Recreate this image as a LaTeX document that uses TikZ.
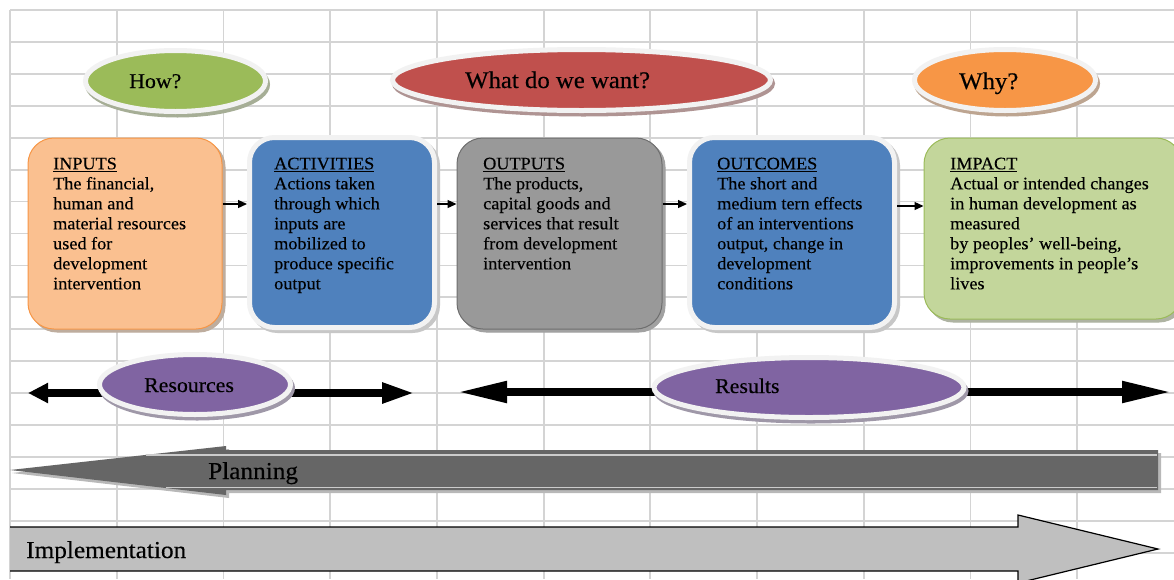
\documentclass[tikz,border=0pt]{standalone}
\usepackage{fontspec}
\setmainfont{Liberation Serif}[FakeStretch=1.04, FakeBold=0.3]
\usetikzlibrary{arrows.meta,shapes.geometric}

\definecolor{gridgray}{HTML}{D4D4D4}
\definecolor{ringwhite}{HTML}{F2F2F2}
\definecolor{howgreen}{HTML}{9BBB59}
\definecolor{wantred}{HTML}{C0504D}
\definecolor{whyorange}{HTML}{F79646}
\definecolor{inputfill}{HTML}{FAC090}
\definecolor{actblue}{HTML}{4F81BD}
\definecolor{outgray}{HTML}{999999}
\definecolor{outedge}{HTML}{6E6E6E}
\definecolor{impactfill}{HTML}{C3D69B}
\definecolor{resviolet}{HTML}{8064A2}
\definecolor{plangray}{HTML}{666666}
\definecolor{impgray}{HTML}{BFBFBF}

\pgfdeclarelayer{back}
\pgfsetlayers{back,main}

\tikzset{
  gridline/.style={draw=gridgray, line width=1.8pt},
  ringellipse/.style={ellipse, inner sep=0pt, fill=#1, draw=ringwhite, line width=5pt,
    preaction={fill=#1!50!black!50!white, draw=#1!50!black!50!white, line width=5pt,
      transform canvas={shift={(2pt,-3.5pt)}}}},
  ringbox/.style={rectangle, rounded corners=25pt, inner sep=0pt, fill=#1, draw=ringwhite, line width=5pt,
    preaction={fill=black!22, draw=black!22, line width=5pt,
      transform canvas={shift={(3pt,-3pt)}}}},
  plainbox/.style 2 args={rectangle, rounded corners=26pt, inner sep=0pt, fill=#1, draw=#2, line width=1pt,
    preaction={fill=#1!55!black!55!white, draw=#1!55!black!55!white, line width=1pt,
      transform canvas={shift={(3pt,-3pt)}}}},
  boxtext/.style={anchor=north west, align=left, inner sep=0pt,
    font=\fontsize{17.5}{20}\selectfont},
  lbl/.style={anchor=base west, inner sep=0pt},
  flowarrow/.style={-{Triangle[length=9pt,width=8pt]}, line width=1.3pt, black},
  bigshaft/.style={line width=8pt, black},
}

\begin{document}
\begin{tikzpicture}[x=1pt,y=-1pt]
\useasboundingbox (0,0) rectangle (1174,579);
\clip (0,0) rectangle (1174,579);

% spreadsheet grid behind everything
\begin{pgfonlayer}{back}
  \fill[white] (0,0) rectangle (1174,579);
  \foreach \k in {0,...,10}
    \draw[gridline] (10+106.73*\k,10) -- (10+106.73*\k,579);
  \foreach \k in {0,...,17}
    \draw[gridline] (10,10+31.93*\k) -- (1174,10+31.93*\k);
\end{pgfonlayer}

% top row of questions
\node[ringellipse=howgreen, minimum width=180pt, minimum height=61pt] (how) at (175.5,81) {};
\node[ringellipse=wantred, minimum width=378pt, minimum height=61pt] (want) at (581.5,80) {};
\node[ringellipse=whyorange, minimum width=181pt, minimum height=61pt] (why) at (1005,80) {};
\node[lbl, font=\fontsize{21}{25}\selectfont] (howtxt) at (129,88) {How?};
\node[lbl, font=\fontsize{23.8}{28}\selectfont] (wanttxt) at (465,88) {What do we want?};
\node[lbl, font=\fontsize{23.8}{28}\selectfont] (whytxt) at (959,89) {Why?};

% results chain boxes
\node[plainbox={inputfill}{whyorange}, minimum width=194pt, minimum height=191pt] (inputs) at (125,233.5) {};
\node[ringbox=actblue, minimum width=185pt, minimum height=190pt] (activities) at (342,232.5) {};
\node[plainbox={outgray}{outedge}, minimum width=205pt, minimum height=191pt] (outputs) at (559.5,233.5) {};
\node[ringbox=actblue, minimum width=205pt, minimum height=190pt] (outcomes) at (792,232.5) {};
\node[plainbox={impactfill}{howgreen}, minimum width=258pt, minimum height=181pt] (impact) at (1053,228.5) {};

\node[boxtext] (inputstxt) at (53,157.5) {\underline{INPUTS}\\The financial,\\human and\\material resources\\used for\\development\\intervention};
\node[boxtext] (activitiestxt) at (274,157.5) {\underline{ACTIVITIES}\\Actions taken\\through which\\inputs are\\mobilized to\\produce specific\\output};
\node[boxtext] (outputstxt) at (483,157.5) {\underline{OUTPUTS}\\The products,\\capital goods and\\services that result\\from development\\intervention};
\node[boxtext] (outcomestxt) at (717,157.5) {\underline{OUTCOMES}\\The short and\\medium tern effects\\of an interventions\\output, change in\\development\\conditions};
\node[boxtext] (impacttxt) at (950,157.5) {\underline{IMPACT}\\Actual or intended changes\\in human development as\\measured\\by peoples’ well-being,\\improvements in people’s\\lives};

\draw[flowarrow] ([yshift=29.5pt]inputs.east) -- ([yshift=29.5pt]inputs.east -| activities.west);
\draw[flowarrow] ([yshift=29.5pt]outputs.west -| activities.east) -- ([yshift=29.5pt]outputs.west);
\draw[flowarrow] ([yshift=29.5pt]outputs.east) -- ([yshift=29.5pt]outputs.east -| outcomes.west);
\draw[flowarrow] ([yshift=26.5pt]outcomes.east) -- ([yshift=26.5pt]outcomes.east -| impact.west);

% resources and results with their spans
\node[ringellipse=resviolet, minimum width=191pt, minimum height=60pt] (res) at (195,384.5) {};
\node[ringellipse=resviolet, minimum width=310pt, minimum height=60pt] (results) at (809,387.5) {};
\node[lbl, font=\fontsize{21}{25}\selectfont] (restxt) at (144,392) {Resources};
\node[lbl, font=\fontsize{21}{25}\selectfont] (resultstxt) at (715,393) {Results};

\coordinate (resL) at (28,393);
\coordinate (resR) at (415,393);
\coordinate (rsltL) at (457,392);
\coordinate (rsltR) at (1172,392);
\begin{pgfonlayer}{back}
  \draw[bigshaft, -{Triangle[length=20pt,width=19pt]}] (resL -| res.center) -- (resL);
  \draw[bigshaft, -{Triangle[length=33pt,width=19pt]}] (resR -| res.center) -- (resR);
  \draw[bigshaft, -{Triangle[length=50pt,width=20pt]}] (rsltL -| results.center) -- (rsltL);
  \draw[bigshaft, -{Triangle[length=50pt,width=20pt]}] (rsltR -| results.center) -- (rsltR);
\end{pgfonlayer}

% planning band pointing back
\fill[black!28] (12,473) -- (229,449) -- (229,453) -- (1161,453) -- (1161,493) -- (229,493) -- (229,498) -- cycle;
\fill[plangray] (10,470) -- (226,446) -- (226,450) -- (1158,450) -- (1158,490) -- (226,490) -- (226,495) -- cycle;
\draw[white!80!black, line width=1.4pt] (146,455) -- (1157,455);
\draw[white!80!black, line width=1.4pt] (166,487.5) -- (1157,487.5);
\node[lbl, font=\fontsize{24.3}{28}\selectfont] (plantxt) at (208,479) {Planning};

% implementation band pointing forward
\fill[impgray] (10,527) -- (1018,527) -- (1018,515) -- (1158,549) -- (1018,583) -- (1018,571) -- (10,571) -- cycle;
\draw[black, line width=1.2pt, line join=miter] (10,527) -- (1018,527) -- (1018,515) -- (1158,549) -- (1018,583) -- (1018,571) -- (10,571);
\node[lbl, font=\fontsize{24.3}{28}\selectfont] (imptxt) at (26,558) {Implementation};
\end{tikzpicture}
\end{document}
